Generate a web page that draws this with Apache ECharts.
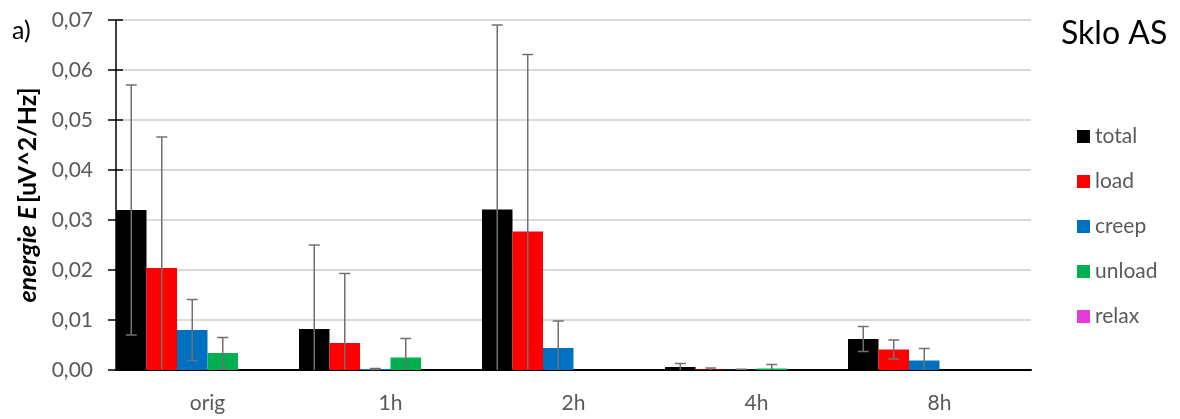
<!DOCTYPE html>
<html>
<head>
<meta charset="utf-8">
<script src="https://cdn.jsdelivr.net/npm/echarts@6/dist/echarts.min.js"></script>
<style>
html,body{margin:0;padding:0;background:#fff;}
#c{width:1180px;height:419px;}
</style>
</head>
<body>
<div id="c"></div>
<script>
var categories = ['orig', '1h', '2h', '4h', '8h'];
var seriesNames = ['total', 'load', 'creep', 'unload', 'relax'];
var total = [0.0320, 0.0082, 0.0321, 0.0006, 0.0062];
var totalErr = [0.0250, 0.0168, 0.0369, 0.0007, 0.0025];
var load = [0.0204, 0.0054, 0.0277, 0.0001, 0.0041];
var loadErr = [0.0262, 0.0139, 0.0354, 0.0003, 0.0019];
var creep = [0.0080, 0.0002, 0.0044, 0.00005, 0.0019];
var creepErr = [0.0061, 0.0001, 0.0054, 0.0001, 0.0024];
var unload = [0.0034, 0.0025, 0, 0.0003, 0];
var unloadErr = [0.0031, 0.0038, 0, 0.0008, 0];
var relax = [0, 0, 0, 0, 0];
var relaxErr = [0, 0, 0, 0, 0];
var emptySlot = [null, null, null, null, null];
var yTicks = [0, 0.01, 0.02, 0.03, 0.04, 0.05, 0.06, 0.07];

var values = [total, load, creep, unload, relax, emptySlot];
var errors = [totalErr, loadErr, creepErr, unloadErr, relaxErr, relaxErr];
var colors = ['#000000', '#ff0000', '#0070c0', '#00b050', '#e83ad6', '#ffffff'];
var NSLOT = values.length;
var FONT = 'Lato, "Noto Sans", sans-serif';

var chart = echarts.init(document.getElementById('c'));

var series = [];
values.forEach(function (vals, i) {
  series.push({
    name: i < seriesNames.length ? seriesNames[i] : 'slot', type: 'bar', data: vals,
    barGap: '0%', barCategoryGap: '0%',
    itemStyle: { color: colors[i] },
    emphasis: { disabled: true }
  });
});
values.forEach(function (vals, i) {
  var d = vals.map(function (v, k) { return [k, v || 0, errors[i][k]]; })
    .filter(function (r) { return r[1] > 0 || r[2] > 0; });
  series.push({
    type: 'custom', name: 'err' + i, z: 10, silent: true,
    data: d,
    renderItem: function (params, api) {
      var k = api.value(0), v = api.value(1), e = api.value(2);
      var catW = api.size([1, 0])[0];
      var bw = catW / NSLOT;
      var center = api.coord([k, 0]);
      var x = center[0] + (i - (NSLOT - 1) / 2) * bw;
      var hi = api.coord([k, v + e])[1];
      var lo = api.coord([k, Math.max(0, v - e)])[1];
      var cap = 5.5;
      var st = { stroke: '#707070', lineWidth: 1.5 };
      var ch = [
        { type: 'line', shape: { x1: x, y1: hi, x2: x, y2: lo }, style: st },
        { type: 'line', shape: { x1: x - cap, y1: hi, x2: x + cap, y2: hi }, style: st }
      ];
      if (v - e > 0) ch.push({ type: 'line', shape: { x1: x - cap, y1: lo, x2: x + cap, y2: lo }, style: st });
      return { type: 'group', children: ch };
    }
  });
});

chart.setOption({
  animation: false,
  backgroundColor: '#ffffff',
  textStyle: { fontFamily: FONT },
  grid: { left: 116, right: 149, top: 20, bottom: 49 },
  title: [
    { text: 'a)', left: 7, top: 13, textStyle: { fontFamily: FONT, fontSize: 25, fontWeight: 'normal', color: '#000' } },
    { text: 'Sklo AS', left: 1056, top: 13, textStyle: { fontFamily: FONT, fontSize: 32, fontWeight: 'normal', color: '#000' } }
  ],
  legend: {
    orient: 'vertical', left: 1072, top: 121, itemGap: 24,
    itemWidth: 13, itemHeight: 13, icon: 'rect',
    data: seriesNames,
    textStyle: { fontFamily: FONT, fontSize: 21, color: '#595959' }
  },
  xAxis: {
    type: 'category', data: categories,
    axisLine: { lineStyle: { color: '#000', width: 2 } },
    axisTick: { show: false },
    axisLabel: { fontFamily: FONT, fontSize: 21, color: '#595959', margin: 23 }
  },
  yAxis: [{
    type: 'value', min: yTicks[0], max: yTicks[yTicks.length - 1], interval: 0.01,
    name: '{bi|energie E} {b|[uV^2/Hz]}', nameLocation: 'middle', nameGap: 75, nameRotate: 90,
    nameTextStyle: { rich: {
      bi: { fontFamily: FONT, fontSize: 25, fontWeight: 'bold', fontStyle: 'italic', color: '#000' },
      b: { fontFamily: FONT, fontSize: 25, fontWeight: 'bold', color: '#000' } } },
    axisLine: { show: true, lineStyle: { color: '#000', width: 1.5 } },
    axisTick: { show: true, length: 8, lineStyle: { color: '#000', width: 1.5 } },
    axisLabel: { fontFamily: FONT, fontSize: 21, color: '#595959', margin: 23,
      formatter: function (v) { return v.toFixed(2).replace('.', ','); } },
    splitLine: { lineStyle: { color: '#d9d9d9', width: 2 } }
  }, {
    type: 'value', position: 'left', min: yTicks[0], max: yTicks[yTicks.length - 1], interval: 0.01,
    axisLine: { show: false },
    axisTick: { show: true, inside: true, length: 7, lineStyle: { color: '#000', width: 1.5 } },
    axisLabel: { show: false }, splitLine: { show: false }
  }],
  series: series
});
</script>
</body>
</html>
